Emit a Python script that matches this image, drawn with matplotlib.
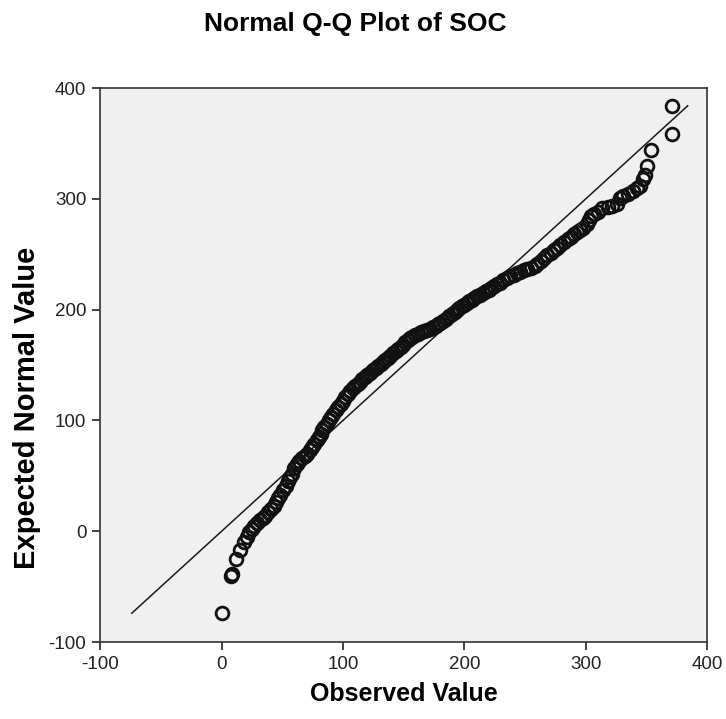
import matplotlib
matplotlib.use("Agg")
import matplotlib.pyplot as plt

# --- Data (observed SOC vs expected normal value) ---
observed = [
    0, 8, 8.5, 11.8, 15.3, 18.6, 20.8, 23, 25, 27,
    29.5, 31.8, 34, 36, 38.5, 41, 42.8, 44.5, 46.5, 48.5,
    51, 53, 55, 56.5, 58, 60, 62, 64, 66.5, 68.5,
    70.3, 72.5, 74.5, 76.5, 78.5, 80, 81.5, 83, 84.5, 86.5,
    88.5, 90.5, 92.2, 94, 96, 98, 100.4, 102, 104, 106,
    108, 110, 112, 114, 116, 118, 120, 122.5, 125, 127,
    129, 131, 133, 135, 137, 139, 141.5, 143.5, 145.5, 147.5,
    149.5, 151.5, 153.5, 155.5, 157, 159.5, 162, 164.5, 167, 169,
    171.5, 174, 176.5, 178.5, 180, 182.5, 185, 187.5, 190, 192,
    194, 196, 198, 200, 202, 204, 206, 208, 210.5, 213,
    215.5, 218, 220, 222, 224.5, 227, 229.5, 232, 235, 238,
    241, 243.5, 246, 249, 252, 255, 258, 260, 263, 266,
    268.5, 271, 274, 276.5, 279, 282, 285, 287.5, 290, 293,
    295.5, 298, 301, 302.5, 304, 307, 310, 313.5, 318, 322,
    325.5, 328, 331, 335, 339, 342, 345, 347, 349, 350.6,
    354, 371, 371,
]
expected = [
    -74, -40.5, -39, -25, -17, -10, -5, -1, 2, 5,
    7.5, 10, 12, 14, 17, 20, 22.5, 26, 30, 33,
    37, 41, 45, 49, 52, 57, 61, 63.5, 66, 68,
    70, 73, 76, 79, 82, 85, 88, 91, 94, 97,
    100, 103, 106, 109, 112, 115, 118, 121, 124, 127,
    129, 131, 133, 135, 137, 139, 141, 143, 145.5, 147.5,
    149, 151, 153, 154.5, 156, 158, 160.5, 162.5, 164.5, 166.5,
    168.5, 170.5, 172.5, 174.5, 175.5, 177, 178, 179.5, 180.5, 181.5,
    183, 184, 185.5, 187, 188, 190, 192, 194, 196, 198,
    200, 201.5, 203, 204.5, 206, 207.5, 209, 210.5, 212, 213.5,
    215, 216.5, 218, 219.5, 221, 223, 224.5, 226.5, 228.5, 230,
    231.5, 233, 234, 235.5, 237, 238, 239.5, 241, 244, 247,
    249, 251, 253.5, 256, 258.5, 261, 263.5, 266, 268, 270,
    272, 274, 277, 281, 284.5, 286.5, 288.5, 291.5, 292.5, 293.5,
    295, 300.5, 302.5, 304.5, 307, 309.5, 312, 317.5, 321.5, 329.5,
    344, 359, 384,
]
ticks = [-100, 0, 100, 200, 300, 400]

plt.rcParams["font.family"] = ["Liberation Sans", "DejaVu Sans"]
plt.rcParams["axes.unicode_minus"] = False

fig = plt.figure(figsize=(7.26, 7.19), dpi=100)
ax = fig.add_axes([0.138, 0.107, 0.836, 0.7705])
ax.set_facecolor("#f0f0f0")

# reference line y = x over the range of expected values
lo, hi = min(expected), max(expected)
ax.plot([lo, hi], [lo, hi], color="#1a1a1a", lw=1.1, zorder=2)

ax.plot(observed, expected, "o", mfc="none", mec="#111111", ms=9.2, mew=2.0, zorder=3)

ax.set_xlim(-100, 400)
ax.set_ylim(-100, 400)
ax.set_xticks(ticks)
ax.set_yticks(ticks)
ax.tick_params(direction="out", length=6, width=1.2, labelsize=13.5, pad=4,
               colors="#222222")
for s in ax.spines.values():
    s.set_color("#333333")
    s.set_linewidth(1.2)

ax.set_xlabel("Observed Value", fontsize=18, fontweight="bold")
ax.set_ylabel("Expected Normal Value", fontsize=21, fontweight="bold")
ax.xaxis.set_label_coords(0.5, -0.072)
ax.yaxis.set_label_coords(-0.097, 0.422)

fig.text(0.489, 0.967, "Normal Q-Q Plot of SOC", ha="center", va="center",
         fontsize=19, fontweight="bold")

fig.savefig("out.png", dpi=100)
